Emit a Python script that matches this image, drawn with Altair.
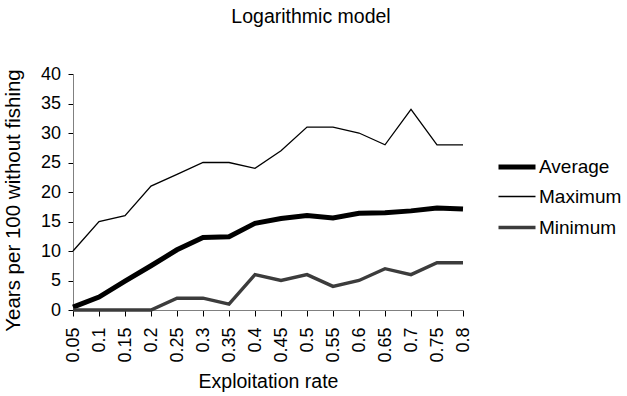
import altair as alt
import pandas as pd

rates = ["0.05", "0.1", "0.15", "0.2", "0.25", "0.3", "0.35", "0.4",
         "0.45", "0.5", "0.55", "0.6", "0.65", "0.7", "0.75", "0.8"]
average = [0.5, 2.2, 4.9, 7.5, 10.2, 12.3, 12.4, 14.7,
           15.5, 16.0, 15.6, 16.4, 16.5, 16.8, 17.3, 17.1]
maximum = [10, 15, 16, 21, 23, 25, 25, 24,
           27, 31, 31, 30, 28, 34, 28, 28]
minimum = [0, 0, 0, 0, 2, 2, 1, 6,
           5, 6, 4, 5, 7, 6, 8, 8]

series = ["Average", "Maximum", "Minimum"]

rows = []
for name, vals in zip(series, [average, maximum, minimum]):
    for r, v in zip(rates, vals):
        rows.append({"rate": r, "value": v, "series": name})
df = pd.DataFrame(rows)

FONT = "Liberation Sans"

chart = (
    alt.Chart(df)
    .mark_line(strokeJoin="miter")
    .encode(
        x=alt.X("rate:O", sort=rates, title="Exploitation rate",
                scale=alt.Scale(type="point", padding=0),
                axis=alt.Axis(labelAngle=270, labelAlign="right", labelBaseline="middle",
                              labelPadding=11, tickSize=6, titlePadding=10)),
        y=alt.Y("value:Q", title="Years per 100 without fishing",
                scale=alt.Scale(domain=[0, 40], nice=False),
                axis=alt.Axis(values=list(range(0, 41, 5)), tickSize=5,
                              labelPadding=7.5, grid=False,
                              titleFontSize=20.5, titleAngle=270, titleAlign="center",
                              titleBaseline="middle", titleX=-60, titleY=126)),
        color=alt.Color("series:N", sort=series, title=None,
                        scale=alt.Scale(domain=series, range=["#000000", "#000000", "#3c3c3c"]),
                        legend=alt.Legend(orient="none", legendX=423, legendY=72,
                                          symbolType="stroke", symbolSize=1369,
                                          labelFontSize=19, labelFont=FONT, labelColor="#000",
                                          rowPadding=-13, labelOffset=1)),
        strokeWidth=alt.StrokeWidth("series:N", sort=series, title=None,
                                    scale=alt.Scale(type="ordinal", domain=series,
                                                    range=[5, 1.3, 3.4])),
    )
    .properties(
        width=390,
        height=236,
        title=alt.TitleParams("Logarithmic model", anchor="middle", dx=43,
                              fontSize=19.5, font=FONT, fontWeight="normal",
                              color="#000", baseline="alphabetic", offset=23),
        padding={"left": 73, "top": 74, "right": 164, "bottom": 86},
        autosize=alt.AutoSizeParams(type="none"),
    )
    .configure_axis(
        labelFont=FONT, titleFont=FONT, labelFontSize=18, titleFontSize=19.5,
        labelColor="#000", titleColor="#000", titleFontWeight="normal",
        domainColor="#808080", tickColor="#000", grid=False,
    )
    .configure_view(stroke=None)
)

chart.save("out.html", embed_options={"renderer": "svg", "actions": False})
